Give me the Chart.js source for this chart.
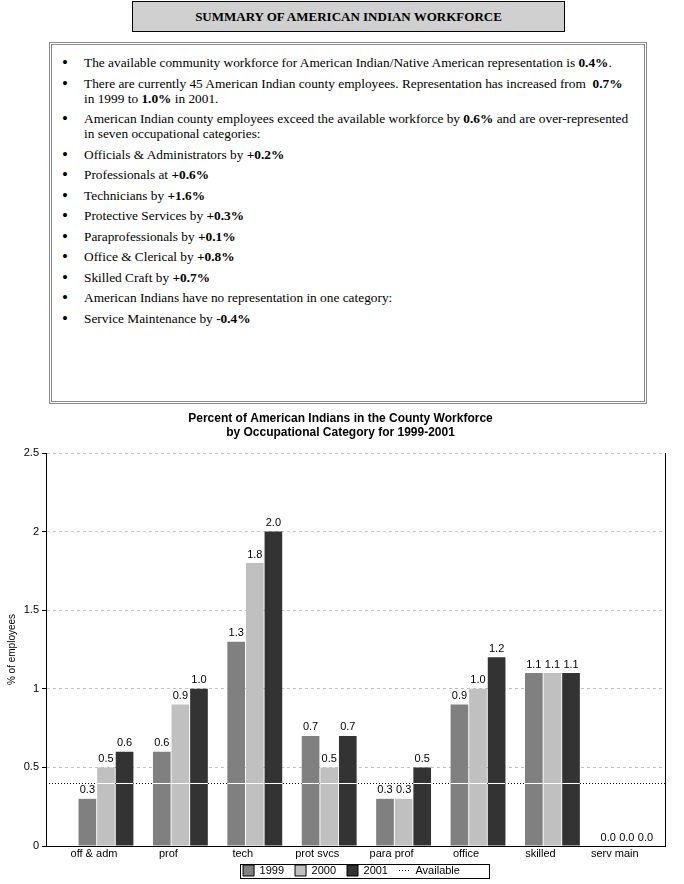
<!DOCTYPE html>
<html lang="en">
<head>
<meta charset="UTF-8">
<title>Summary of American Indian Workforce</title>
<script src="https://cdn.jsdelivr.net/npm/chart.js"></script>
<style>
  html, body { margin: 0; padding: 0; background: #fff; overflow: hidden; }
  body { width: 684px; height: 884px; position: relative; color: #000; font-family: 'Liberation Serif', 'Times New Roman', serif; }
  #head { position: absolute; left: 132px; top: 1px; width: 431px; height: 29px; border: 1px solid #000; background: #d0d0d0; text-align: center; line-height: 29px; font-size: 13px; font-weight: bold; }
  #summary { position: absolute; left: 49px; top: 42px; width: 592px; height: 356px; border: 3px double #8c8c8c; }
  #summary ul { list-style: none; margin: 0; padding: 10px 0 0 0; font-size: 13.33px; line-height: 15px; }
  #summary li { position: relative; padding-left: 32px; margin-bottom: 5.5px; white-space: nowrap; }
  #summary li::before { content: "\2022"; position: absolute; left: 10px; top: 0; font-size: 17px; }
  #chartBox { position: absolute; left: 0; top: 405px; width: 684px; height: 489px; }
</style>
</head>
<body>
<div id="head">SUMMARY OF AMERICAN INDIAN WORKFORCE</div>

<div id="summary">
<ul>
  <li>The available community workforce for American Indian/Native American representation is <b>0.4%</b>.</li>
  <li>There are currently 45 American Indian county employees. Representation has increased from &nbsp;<b>0.7%</b><br>in 1999 to <b>1.0%</b> in 2001.</li>
  <li>American Indian county employees exceed the available workforce by <b>0.6%</b> and are over-represented<br>in seven occupational categories:</li>
  <li>Officials &amp; Administrators by <b>+0.2%</b></li>
  <li>Professionals at <b>+0.6%</b></li>
  <li>Technicians by <b>+1.6%</b></li>
  <li>Protective Services by <b>+0.3%</b></li>
  <li>Paraprofessionals by <b>+0.1%</b></li>
  <li>Office &amp; Clerical by <b>+0.8%</b></li>
  <li>Skilled Craft by <b>+0.7%</b></li>
  <li>American Indians have no representation in one category:</li>
  <li>Service Maintenance by <b>-0.4%</b></li>
</ul>
</div>

<div id="chartBox"><canvas id="chart"></canvas></div>

<script>
// chart data
const CATEGORIES = ['off & adm', 'prof', 'tech', 'prot svcs', 'para prof', 'office', 'skilled', 'serv main'];
const YEARS = ['1999', '2000', '2001'];
const VALUES_1999 = [0.3, 0.6, 1.3, 0.7, 0.3, 0.9, 1.1, 0.0];
const VALUES_2000 = [0.5, 0.9, 1.8, 0.5, 0.3, 1.0, 1.1, 0.0];
const VALUES_2001 = [0.6, 1.0, 2.0, 0.7, 0.5, 1.2, 1.1, 0.0];
const AVAILABLE = 0.4;
const Y_TICKS = [0, 0.5, 1, 1.5, 2, 2.5];

const SERIES = [VALUES_1999, VALUES_2000, VALUES_2001];
const BAR_COLORS = ['#808080', '#c0c0c0', '#333333'];
const SANS = "'Liberation Sans', Arial, sans-serif";
const X_MIN = -0.806, X_MAX = 7.513;
const LEGEND_SHIFT = 19;
const LEGEND_LIFT = 7.2;
const TITLE_SHIFT = 8;

Chart.defaults.font.family = SANS;
Chart.defaults.color = '#000';

// dotted "Available" line, right frame edge, value labels, legend frame
const extras = {
  id: 'extras',
  afterLayout(chart) {
    const lg = chart.legend;
    lg.left += LEGEND_SHIFT;
    lg.right += LEGEND_SHIFT;
    lg.top -= LEGEND_LIFT;
    lg.bottom -= LEGEND_LIFT;
    const tb = chart.titleBlock;
    tb.left += TITLE_SHIFT;
    tb.right += TITLE_SHIFT;
  },
  beforeDatasetsDraw(chart) {
    const { ctx, chartArea: a, scales: { y } } = chart;
    const py = Math.round(y.getPixelForValue(AVAILABLE)) + 0.5;
    ctx.save();
    ctx.strokeStyle = '#000';
    ctx.lineWidth = 1;
    ctx.setLineDash([1, 2]);
    ctx.beginPath();
    ctx.moveTo(a.left, py);
    ctx.lineTo(a.right, py);
    ctx.stroke();
    ctx.setLineDash([]);
    const rx = Math.round(a.right) + 0.5;
    ctx.beginPath();
    ctx.moveTo(rx, a.top);
    ctx.lineTo(rx, a.bottom);
    ctx.stroke();
    ctx.restore();
  },
  afterDatasetsDraw(chart) {
    const { ctx, scales: { y } } = chart;
    const py = Math.round(y.getPixelForValue(AVAILABLE)) + 0.5;
    ctx.save();
    ctx.strokeStyle = '#fff';
    ctx.lineWidth = 1;
    chart.data.datasets.forEach((ds, k) => {
      chart.getDatasetMeta(k).data.forEach((bar) => {
        if (bar.y < py) {
          ctx.beginPath();
          ctx.moveTo(bar.x - bar.width / 2, py);
          ctx.lineTo(bar.x + bar.width / 2, py);
          ctx.stroke();
        }
      });
    });
    ctx.fillStyle = '#000';
    ctx.font = '11px ' + SANS;
    ctx.textAlign = 'center';
    ctx.textBaseline = 'bottom';
    chart.data.datasets.forEach((ds, k) => {
      chart.getDatasetMeta(k).data.forEach((bar, i) => {
        ctx.fillText(ds.data[i].y.toFixed(1), bar.x, bar.y - 3);
      });
    });
    ctx.restore();
  },
  afterDraw(chart) {
    const boxes = chart.legend.legendHitBoxes;
    if (!boxes || !boxes.length) return;
    const ctx = chart.ctx;
    const left = Math.min(...boxes.map(b => b.left)) - 3;
    const right = Math.max(...boxes.map(b => b.left + b.width)) + 29;
    const mid = boxes[0].top + boxes[0].height / 2;
    ctx.save();
    ctx.strokeStyle = '#000';
    ctx.lineWidth = 1;
    ctx.strokeRect(Math.round(left) + 0.5, Math.round(mid - 7) + 0.5, Math.round(right - left), 14);
    ctx.restore();
  }
};

new Chart(document.getElementById('chart'), {
  type: 'bar',
  data: {
    datasets: YEARS.map((year, k) => ({
      label: year,
      data: SERIES[k].map((v, i) => ({ x: i, y: v })),
      backgroundColor: BAR_COLORS[k],
      borderWidth: 0,
      categoryPercentage: 0.75,
      barPercentage: 0.95
    }))
  },
  options: {
    responsive: true,
    maintainAspectRatio: false,
    animation: false,
    layout: { padding: { left: 0, right: 19, top: 0, bottom: 0.8 } },
    plugins: {
      title: {
        display: true,
        text: ['Percent of American Indians in the County Workforce', 'by Occupational Category for 1999-2001'],
        color: '#000',
        font: { size: 12, weight: 'bold' },
        padding: { top: 6, bottom: 13.2 }
      },
      legend: {
        position: 'bottom',
        labels: {
          usePointStyle: true,
          pointStyleWidth: 11,
          boxWidth: 11,
          boxHeight: 11,
          padding: 11,
          color: '#000',
          font: { size: 11 },
          generateLabels: (chart) => chart.data.datasets.map((ds, i) => ({
            text: ds.label,
            fillStyle: ds.backgroundColor,
            strokeStyle: '#000',
            lineWidth: 1,
            pointStyle: 'rect',
            datasetIndex: i,
            hidden: false
          })).concat([{
            text: 'Available',
            fillStyle: 'rgba(0,0,0,0)',
            strokeStyle: '#000',
            lineWidth: 1,
            lineDash: [1, 2],
            pointStyle: 'line',
            hidden: false
          }])
        }
      },
      tooltip: { enabled: false }
    },
    scales: {
      x: {
        type: 'linear',
        offset: false,
        bounds: 'data',
        min: X_MIN,
        max: X_MAX,
        afterBuildTicks: (axis) => { axis.ticks = CATEGORIES.map((c, i) => ({ value: i })); },
        grid: { display: false, drawTicks: false, offset: false },
        border: { display: true, color: '#000', width: 1 },
        ticks: {
          autoSkip: false,
          maxRotation: 0,
          padding: 1,
          labelOffset: -12,
          color: '#000',
          font: { size: 11 },
          callback: (v) => CATEGORIES[v]
        }
      },
      y: {
        min: 0,
        max: 2.5,
        afterBuildTicks: (axis) => { axis.ticks = Y_TICKS.map(v => ({ value: v })); },
        afterFit: (axis) => { axis.width = 46; },
        grid: {
          color: (c) => (c.tick && c.tick.value === 0 ? 'rgba(0,0,0,0)' : '#c0c0c0'),
          tickColor: '#000',
          tickLength: 4,
          tickBorderDash: []
        },
        border: { color: '#000', width: 1, dash: [3, 3] },
        ticks: { padding: 3, color: '#000', font: { size: 11 }, callback: (v) => String(v) },
        title: {
          display: true,
          text: '% of employees',
          color: '#000',
          font: { size: 10 },
          padding: { top: 6, bottom: 0 }
        }
      }
    }
  },
  plugins: [extras]
});
</script>
</body>
</html>
